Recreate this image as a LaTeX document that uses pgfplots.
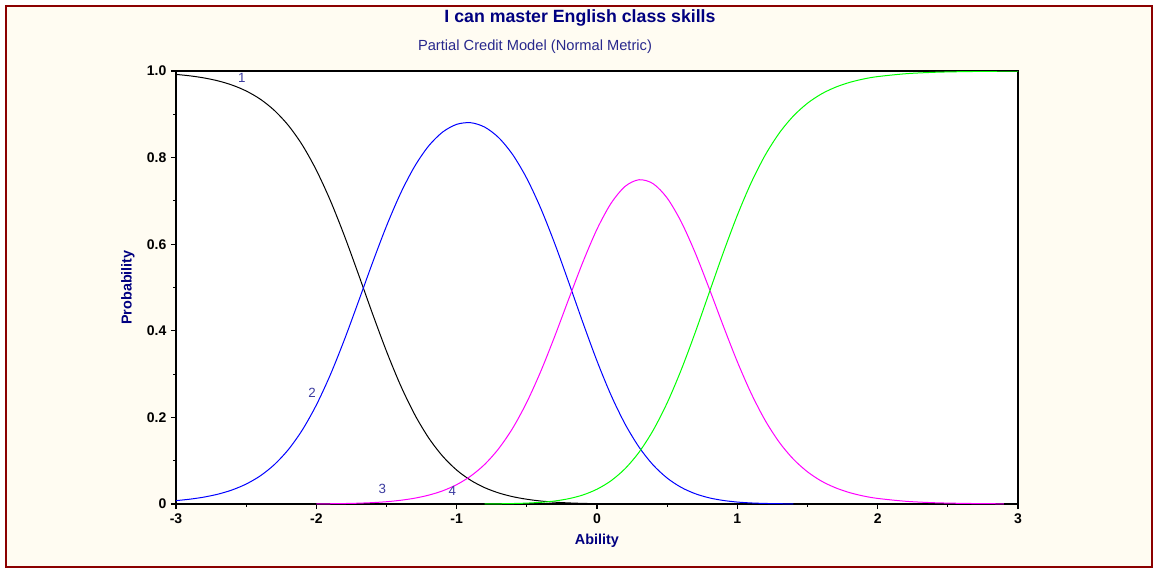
\documentclass[border=0pt]{standalone}
\usepackage{fontspec}
\setmainfont{Liberation Sans}
\usepackage{pgfplots}
\pgfplotsset{compat=1.18}

\definecolor{framered}{RGB}{139,0,0}
\definecolor{panel}{RGB}{255,252,242}
\definecolor{titlenavy}{RGB}{0,0,128}
\definecolor{subnavy}{RGB}{40,40,140}
\definecolor{catlabel}{RGB}{60,60,160}
\definecolor{catgreen}{RGB}{0,255,0}
\definecolor{catmagenta}{RGB}{255,0,255}

\begin{document}
\begin{tikzpicture}
% page and outer panel (1px = 0.75pt)
\fill[white] (0,0) rectangle (865.5pt,-426.75pt);
\path[use as bounding box] (0,0) rectangle (865.5pt,-426.75pt);
\draw[framered, line width=1.9pt, fill=panel] (4.5pt,-4.5pt) rectangle (864pt,-425.25pt);

\node[font=\bfseries\fontsize{13.3}{15}\selectfont, text=titlenavy] at (435pt,-13.5pt) {I can master English class skills};
\node[font=\fontsize{11}{13}\selectfont, text=subnavy] at (401.25pt,-35pt) {Partial Credit Model (Normal Metric)};

\begin{axis}[
  at={(132pt,-378pt)}, anchor=south west,
  scale only axis, width=631.5pt, height=324.75pt,
  xmin=-3, xmax=3, ymin=0, ymax=1,
  xtick={-3,-2,-1,0,1,2,3},
  xticklabels={-3,-2,-1,0,1,2,3},
  ytick={0,0.2,0.4,0.6,0.8,1},
  yticklabels={0,0.2,0.4,0.6,0.8,1.0},
  minor x tick num=1, minor y tick num=1,
  tick align=outside, xtick pos=left, ytick pos=left,
  major tick length=3.75pt, minor tick length=2pt,
  tick style={black, line width=0.8pt},
  ticklabel style={font=\bfseries\fontsize{10.5}{12}\selectfont},
  axis line style={line width=0.9pt},
  axis background/.style={fill=white},
  xlabel={Ability}, ylabel={Probability},
  label style={font=\bfseries\fontsize{10.8}{13}\selectfont, text=titlenavy},
  xlabel style={at={(axis description cs:0.5,-0.0855)}, anchor=center},
  ylabel style={at={(axis description cs:-0.057,0.5)}, anchor=center},
  every axis plot/.append style={line width=0.75pt, smooth},
  clip=true,
]
% category 1
\addplot[black] coordinates {
(-3.0,0.9922) (-2.9,0.9888) (-2.8,0.9840) (-2.7,0.9772) (-2.6,0.9675)
(-2.5,0.9539) (-2.4,0.9351) (-2.3,0.9093) (-2.2,0.8746) (-2.1,0.8291)
(-2.0,0.7711) (-1.9,0.7008) (-1.8,0.6195) (-1.7,0.5307) (-1.6,0.4398)
(-1.5,0.3527) (-1.4,0.2741) (-1.3,0.2072) (-1.2,0.1529) (-1.1,0.1105)
(-1.0,0.0784) (-0.9,0.0548) (-0.8,0.0377) (-0.7,0.0255) (-0.6,0.0169)
(-0.5,0.0110) (-0.4,0.0069) (-0.3,0.0042) (-0.2,0.0025) (-0.1,0.0014)
(0.0,0.0008) (0.1,0.0004)};
% category 2
\addplot[blue] coordinates {
(-3.0,0.0078) (-2.9,0.0112) (-2.8,0.0160) (-2.7,0.0228) (-2.6,0.0325)
(-2.5,0.0461) (-2.4,0.0649) (-2.3,0.0907) (-2.2,0.1254) (-2.1,0.1709)
(-2.0,0.2286) (-1.9,0.2986) (-1.8,0.3795) (-1.7,0.4674) (-1.6,0.5569)
(-1.5,0.6420) (-1.4,0.7173) (-1.3,0.7794) (-1.2,0.8268) (-1.1,0.8590)
(-1.0,0.8768) (-0.9,0.8806) (-0.8,0.8704) (-0.7,0.8459) (-0.6,0.8065)
(-0.5,0.7518) (-0.4,0.6823) (-0.3,0.6005) (-0.2,0.5106) (-0.1,0.4185)
(0.0,0.3303) (0.1,0.2514) (0.2,0.1847) (0.3,0.1312) (0.4,0.0901)
(0.5,0.0599) (0.6,0.0384) (0.7,0.0238) (0.8,0.0142) (0.9,0.0082)
(1.0,0.0045) (1.1,0.0024) (1.2,0.0013) (1.3,0.0007) (1.4,0.0003)};
% category 3
\addplot[catmagenta] coordinates {
(-2.0,0.0003) (-1.9,0.0006) (-1.8,0.0011) (-1.7,0.0019) (-1.6,0.0032)
(-1.5,0.0053) (-1.4,0.0086) (-1.3,0.0134) (-1.2,0.0204) (-1.1,0.0304)
(-1.0,0.0447) (-0.9,0.0645) (-0.8,0.0916) (-0.7,0.1281) (-0.6,0.1755)
(-0.5,0.2352) (-0.4,0.3069) (-0.3,0.3883) (-0.2,0.4746) (-0.1,0.5591)
(0.0,0.6347) (0.1,0.6944) (0.2,0.7335) (0.3,0.7489) (0.4,0.7398)
(0.5,0.7066) (0.6,0.6518) (0.7,0.5800) (0.8,0.4973) (0.9,0.4112)
(1.0,0.3285) (1.1,0.2546) (1.2,0.1922) (1.3,0.1421) (1.4,0.1034)
(1.5,0.0743) (1.6,0.0528) (1.7,0.0374) (1.8,0.0263) (1.9,0.0184)
(2.0,0.0129) (2.2,0.0063) (2.4,0.0030) (2.6,0.0015) (2.8,0.0007)
(2.9,0.0005)};
% category 4
\addplot[catgreen] coordinates {
(-0.8,0.0003) (-0.7,0.0005) (-0.6,0.0011) (-0.5,0.0021) (-0.4,0.0039)
(-0.3,0.0070) (-0.2,0.0124) (-0.1,0.0209) (0.0,0.0342) (0.1,0.0537)
(0.2,0.0816) (0.3,0.1198) (0.4,0.1701) (0.5,0.2335) (0.6,0.3098)
(0.7,0.3962) (0.8,0.4885) (0.9,0.5806) (1.0,0.6669) (1.1,0.7430)
(1.2,0.8065) (1.3,0.8572) (1.4,0.8963) (1.5,0.9256) (1.6,0.9472)
(1.7,0.9626) (1.8,0.9737) (1.9,0.9816) (2.0,0.9871) (2.2,0.9937)
(2.4,0.9970) (2.6,0.9985) (2.8,0.9993) (3.0,0.9998)};

% category numbers
\node[text=catlabel, font=\fontsize{10}{12}\selectfont] at (axis cs:-2.53,0.984) {1};
\node[text=catlabel, font=\fontsize{10}{12}\selectfont] at (axis cs:-2.03,0.256) {2};
\node[text=catlabel, font=\fontsize{10}{12}\selectfont] at (axis cs:-1.53,0.035) {3};
\node[text=catlabel, font=\fontsize{10}{12}\selectfont] at (axis cs:-1.03,0.030) {4};
\end{axis}
\end{tikzpicture}
\end{document}
